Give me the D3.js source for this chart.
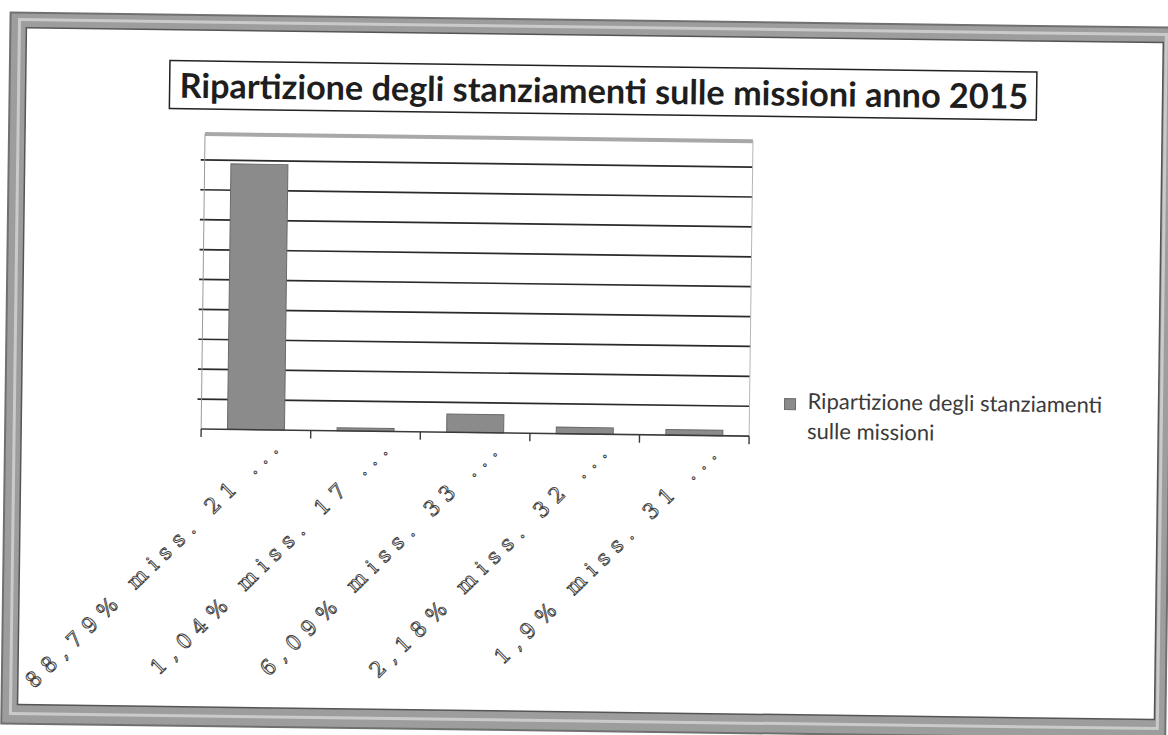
<!DOCTYPE html>
<html>
<head>
<meta charset="utf-8">
<script src="https://cdn.jsdelivr.net/npm/d3@7"></script>
<style>
    html, body {margin: 0; padding: 0; background: #fff;}
    svg {display: block;}
</style>
</head>
<body>
<svg id="chart" width="1168" height="735"></svg>
<script>

const title = 'Ripartizione degli stanziamenti sulle missioni anno 2015'
const categories = [
    '88,79% miss. 21 ...',
    '1,04% miss. 17 ...',
    '6,09% miss. 33 ...',
    '2,18% miss. 32 ...',
    '1,9% miss. 31 ...'
]
const values = [88.79, 1.04, 6.09, 2.18, 1.9]
const legendLines = ['Ripartizione degli stanziamenti', 'sulle missioni']


const W = 1168, H = 735
const plot = {left: 202, right: 750, top: 139, bottom: 434}

const svg = d3.select('#chart')

// the scan is slightly tilted clockwise
const root = svg.append('g')
    .attr('transform', `rotate(0.75, ${W / 2}, ${H / 2})`)


// fit a text node to a target width by scaling its font size
const fitText = (sel, width) => {
    const size = parseFloat(sel.attr('font-size'))
    const len = sel.node().getComputedTextLength()
    sel.attr('font-size', size * width / len)
    return size * width / len
}


const drawFrame = g => {
    g.append('rect')
        .attr('x', 6).attr('y', 20)
        .attr('width', 1164).attr('height', 711)
        .attr('fill', '#9d9d9d')
        .attr('stroke', '#707070')
        .attr('stroke-width', 2)
    g.append('rect')
        .attr('x', 15).attr('y', 27)
        .attr('width', 1147).attr('height', 694)
        .attr('fill', 'none')
        .attr('stroke', '#cacaca')
        .attr('stroke-width', 3)
    g.append('rect')
        .attr('x', 22).attr('y', 35)
        .attr('width', 1137).attr('height', 677)
        .attr('fill', '#fff')
        .attr('stroke', '#555')
        .attr('stroke-width', 1.5)
}


const drawTitle = g => {
    g.append('rect')
        .attr('x', 166).attr('y', 66)
        .attr('width', 867).attr('height', 48)
        .attr('fill', '#fff')
        .attr('stroke', '#222')
        .attr('stroke-width', 1.5)

    const t = g.append('text')
        .attr('x', 176).attr('y', 103)
        .attr('font-family', 'Lato, "Open Sans", sans-serif')
        .attr('font-weight', 'bold')
        .attr('font-size', 32)
        .attr('fill', '#1e1e1e')
        .text(title)
    fitText(t, 849)
}


const x = d3.scaleBand()
    .domain(categories)
    .range([plot.left, plot.right])
    .paddingInner(0.48)
    .paddingOuter(0.24)

const y = d3.scaleLinear()
    .domain([0, 100])
    .range([plot.bottom, plot.bottom - 299])


const drawPlot = g => {
    // grid
    g.append('g')
        .selectAll('line')
        .data(y.ticks(10).filter(t => t > 0 && y(t) > plot.top))
        .join('line')
        .attr('x1', plot.left - 4).attr('x2', plot.right)
        .attr('y1', y).attr('y2', y)
        .attr('stroke', '#2a2a2a')
        .attr('stroke-width', 1.7)

    // plot area border
    g.append('line')
        .attr('x1', plot.left).attr('x2', plot.right)
        .attr('y1', plot.top).attr('y2', plot.top)
        .attr('stroke', '#a8a8a8')
        .attr('stroke-width', 4)
    g.append('line')
        .attr('x1', plot.right).attr('x2', plot.right)
        .attr('y1', plot.top).attr('y2', plot.bottom)
        .attr('stroke', '#b5b5b5')
        .attr('stroke-width', 1)
    g.append('line')
        .attr('x1', plot.left).attr('x2', plot.left)
        .attr('y1', plot.top).attr('y2', plot.bottom)
        .attr('stroke', '#9a9a9a')
        .attr('stroke-width', 1)

    // bars
    g.append('g')
        .selectAll('rect')
        .data(values)
        .join('rect')
        .attr('x', (d, i) => x(categories[i]))
        .attr('width', x.bandwidth())
        .attr('y', d => y(d))
        .attr('height', d => y(0) - y(d))
        .attr('fill', '#8b8b8b')
        .attr('stroke', '#6a6a6a')
        .attr('stroke-width', 1)

    // category axis
    const axis = g.append('g')
        .attr('transform', `translate(0,${plot.bottom})`)
    axis.append('line')
        .attr('x1', plot.left).attr('x2', plot.right)
        .attr('stroke', '#3a3a3a')
        .attr('stroke-width', 1.6)
    const step = x.step()
    axis.selectAll('.tick')
        .data(d3.range(categories.length + 1))
        .join('line')
        .classed('tick', true)
        .attr('x1', i => plot.left + i * step)
        .attr('x2', i => plot.left + i * step)
        .attr('y2', 8)
        .attr('stroke', '#3a3a3a')
        .attr('stroke-width', 1.4)

    axis.selectAll('.label')
        .data(categories)
        .join('text')
        .classed('label', true)
        .attr('transform', d => {
            const cx = x(d) + x.bandwidth() / 2
            return `translate(${cx + 29},${15}) rotate(-45)`
        })
        .attr('text-anchor', 'end')
        .attr('font-family', '"DejaVu Serif", "Liberation Serif", serif')
        .attr('font-size', 21)
        .attr('letter-spacing', 7.8)
        .attr('fill', '#f4f4f4')
        .attr('stroke', '#3c3c3c')
        .attr('stroke-width', 0.9)
        .text(d => d)
}


const drawLegend = g => {
    g.append('rect')
        .attr('x', 785).attr('y', 396)
        .attr('width', 11).attr('height', 11)
        .attr('fill', '#8b8b8b')
        .attr('stroke', '#6a6a6a')

    g.append('g')
        .selectAll('text')
        .data(legendLines)
        .join('text')
        .attr('x', 808)
        .attr('y', (d, i) => 406 + i * 30)
        .attr('font-family', 'Lato, "Open Sans", sans-serif')
        .attr('font-size', 22)
        .attr('fill', '#3a3a3a')
        .text(d => d)
}


drawFrame(root)
drawTitle(root)
drawPlot(root)
drawLegend(root)

</script>
</body>
</html>
